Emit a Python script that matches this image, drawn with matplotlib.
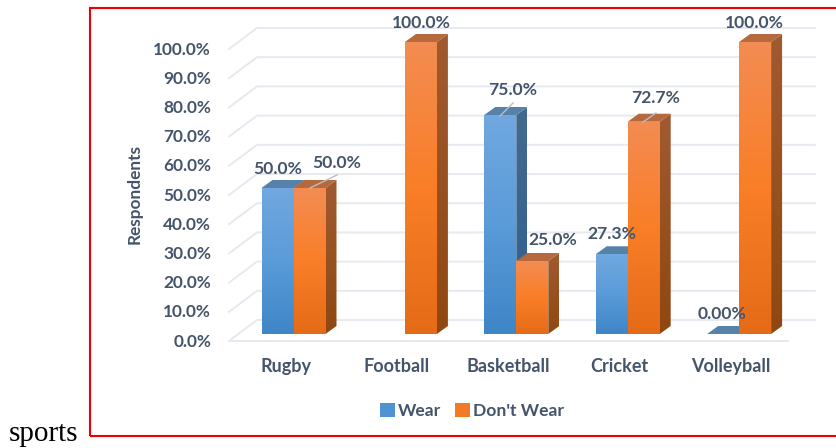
"""Wear / Don't Wear by sport, drawn as a faux-3D clustered column chart."""
import matplotlib
matplotlib.use("Agg")
import matplotlib.pyplot as plt
import numpy as np
from matplotlib.colors import LinearSegmentedColormap
from matplotlib.lines import Line2D
from matplotlib.patches import Patch, Polygon, Rectangle

# ---- data ----
sports = ["Rugby", "Football", "Basketball", "Cricket", "Volleyball"]
wear = [50.0, None, 75.0, 27.3, 0.0]
dont_wear = [50.0, 100.0, 25.0, 72.7, 100.0]
wear_labels = ["50.0%", None, "75.0%", "27.3%", "0.00%"]
dont_labels = ["50.0%", "100.0%", "25.0%", "72.7%", "100.0%"]
y_ticks = list(range(0, 101, 10))
y_tick_labels = [f"{t:.1f}%" for t in y_ticks]

# ---- layout, in output pixels ----
W, H = 837, 448
PX_PER_CAT = 111.4
PX_PER_PCT = 2.92
X0_PX, Y0_PX = 293.5, 334.0

C_TEXT = "#44546A"
C_GRID = "#E6E9F0"
BLUE = dict(front=["#3F86C7", "#5A9BD9", "#70A8DF"], side=["#2E608F", "#44698F"], top="#5681A9")
ORANGE = dict(front=["#E56B18", "#F97E27", "#F38C52"], side=["#8F4810", "#A05A30"], top="#B5693D")

BAR_W = 32 / PX_PER_CAT
DX = 11 / PX_PER_CAT
DY = 8 / PX_PER_PCT

plt.rcParams["font.family"] = ["Lato", "DejaVu Sans"]

fig = plt.figure(figsize=(W / 100, H / 100), dpi=100)
ax = fig.add_axes([0, 0, 1, 1])
ax.axis("off")
xlim = (-X0_PX / PX_PER_CAT, (W - X0_PX) / PX_PER_CAT)
ylim = ((Y0_PX - H) / PX_PER_PCT, Y0_PX / PX_PER_PCT)


def xp(px):
    return (px - X0_PX) / PX_PER_CAT


def yp(px):
    return (Y0_PX - px) / PX_PER_PCT


def gradient_face(verts, stops, zorder):
    """Fill a polygon with a vertical colour gradient (stops go bottom to top)."""
    verts = np.asarray(verts)
    cmap = LinearSegmentedColormap.from_list("face", stops)
    grad = np.linspace(0, 1, 64).reshape(-1, 1)
    im = ax.imshow(grad, cmap=cmap, origin="lower", aspect="auto", zorder=zorder,
                   extent=(verts[:, 0].min(), verts[:, 0].max(),
                           verts[:, 1].min(), verts[:, 1].max()))
    clip = Polygon(verts, closed=True, transform=ax.transData, fc="none", ec="none")
    ax.add_patch(clip)
    im.set_clip_path(clip)


def draw_bar(x, value, style, zorder):
    if value is None:
        return
    x1 = x + BAR_W
    if value > 0:
        gradient_face([(x, 0), (x1, 0), (x1, value), (x, value)], style["front"], zorder + 0.2)
        gradient_face([(x1, 0), (x1 + DX, DY), (x1 + DX, value + DY), (x1, value)],
                      style["side"], zorder)
    ax.add_patch(Polygon([(x, value), (x1, value), (x1 + DX, value + DY), (x + DX, value + DY)],
                         closed=True, fc=style["top"], ec="none", zorder=zorder))


# ---- wall and floor gridlines ----
for t in y_ticks:
    back = t + yp(Y0_PX - 14)
    front = t - 7 / PX_PER_PCT
    ax.plot([xp(229), xp(257), xp(815)], [front, back, back], color=C_GRID, lw=1.4, zorder=1,
            solid_joinstyle="miter")
ax.plot([xp(229), xp(788)], [-7 / PX_PER_PCT] * 2, color=C_GRID, lw=1.4, zorder=1)

# ---- bars ----
for i in range(len(sports)):
    draw_bar(i - BAR_W, wear[i], BLUE, 3 + i * 0.01)
    draw_bar(i, dont_wear[i], ORANGE, 4 + i * 0.01)

# ---- tick, axis and category text ----
for t, lab in zip(y_ticks, y_tick_labels):
    ax.text(xp(211), t - 7.5 / PX_PER_PCT, lab, ha="right", va="center", color=C_TEXT,
            fontsize=12.4, fontweight="bold")
for i, s in enumerate(sports):
    ax.text(i - 8 / PX_PER_CAT, yp(366), s, ha="center", va="center", color=C_TEXT,
            fontsize=13, fontweight="bold")
ax.text(xp(135), yp(194), "Respondents", rotation=90, ha="center", va="center", color=C_TEXT,
        fontsize=12.4, fontweight="bold")

# ---- data labels, placed by hand as in the source chart ----
wear_pos = [(278, 169), None, (513, 90), (612, 234), (722, 314)]
dont_pos = [(337, 163), (421, 23), (553, 240), (656, 98), (754, 23)]
for lab, pos in zip(wear_labels + dont_labels, wear_pos + dont_pos):
    if lab is not None:
        ax.text(xp(pos[0]), yp(pos[1]), lab, ha="center", va="center", color=C_TEXT,
                fontsize=12.6, fontweight="bold", zorder=8)

leaders = [((310, 188), (337, 175)), ((500, 116), (513, 103)), ((643, 122), (656, 113))]
for a, b in leaders:
    ax.add_line(Line2D([xp(a[0]), xp(b[0])], [yp(a[1]), yp(b[1])], color="#B9BFC9", lw=1.0, zorder=7))

# ---- legend ----
handles = [Patch(fc="#4F93D3", ec="none", label="Wear"),
           Patch(fc="#F27A24", ec="none", label="Don't Wear")]
ax.legend(handles=handles, loc="center", bbox_to_anchor=(472 / W, 1 - 411 / H), ncol=2,
          frameon=False, handlelength=0.85, handleheight=0.85, handletextpad=0.18,
          columnspacing=0.76, labelcolor=C_TEXT,
          prop={"family": "Lato", "weight": "bold", "size": 12.6})

# ---- red frame and stray caption text from the source page ----
ax.add_patch(Rectangle((xp(90), yp(436)), xp(W + 5) - xp(90), yp(8) - yp(436),
                       fc="none", ec="#F00000", lw=1.5, zorder=9, clip_on=True))
ax.text(xp(9), yp(441), "sports", family="Liberation Serif", fontsize=21, color="black",
        ha="left", va="baseline")

ax.set_xlim(xlim)
ax.set_ylim(ylim)
fig.savefig("out.png", dpi=100, facecolor="white")
